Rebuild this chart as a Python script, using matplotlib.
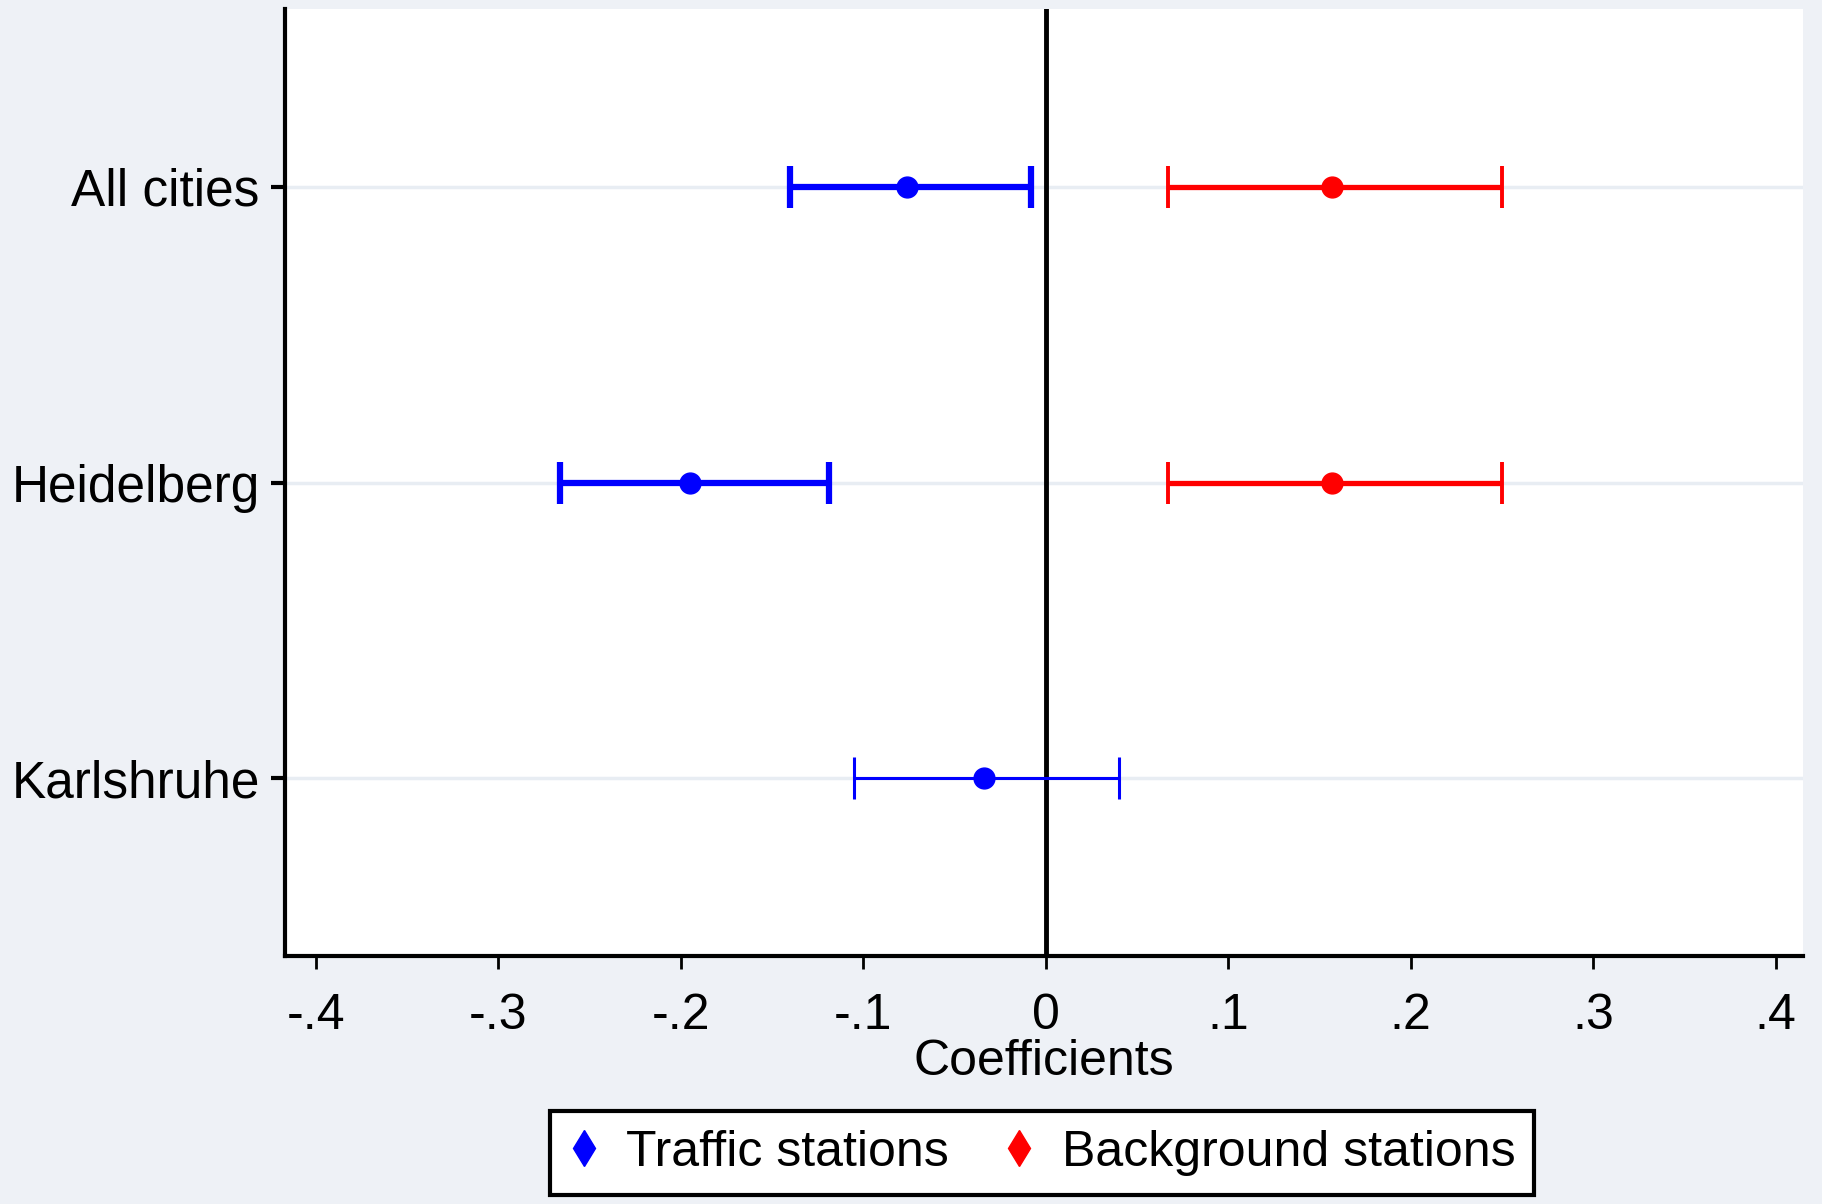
import matplotlib.pyplot as plt
from matplotlib.lines import Line2D

plt.rcParams['font.family'] = ['Liberation Sans Narrow', 'Liberation Sans', 'DejaVu Sans']

# coefficient estimates with 95% confidence bounds
cities = ['All cities', 'Heidelberg', 'Karlshruhe']
traffic_coef = [-0.076, -0.195, -0.034]
traffic_low = [-0.140, -0.266, -0.105]
traffic_high = [-0.008, -0.119, 0.040]
background_cities = ['All cities', 'Heidelberg']
background_coef = [0.157, 0.157]
background_low = [0.067, 0.067]
background_high = [0.250, 0.250]
xticks = [-0.4, -0.3, -0.2, -0.1, 0, 0.1, 0.2, 0.3, 0.4]
xticklabels = ['-.4', '-.3', '-.2', '-.1', '0', '.1', '.2', '.3', '.4']

bg = '#eef1f6'
fig = plt.figure(figsize=(18.22, 12.04), dpi=100, facecolor=bg)
ax = fig.add_axes([0.1563, 0.206, 0.8333, 0.7863])
ax.set_facecolor('white')

ypos = {c: i + 1 for i, c in enumerate(cities)}
for c in cities:
    ax.axhline(ypos[c], color='#e8edf3', lw=2.5, zorder=0)

ax.axvline(0, color='black', lw=3.5, zorder=1)

# thicker bars for the pooled and Heidelberg estimates, thin one for Karlsruhe
t_widths = [4.5, 4.5, 2.2]
for i, c in enumerate(cities):
    y = ypos[c]
    ax.errorbar(traffic_coef[i], y,
                xerr=[[traffic_coef[i] - traffic_low[i]], [traffic_high[i] - traffic_coef[i]]],
                fmt='o', color='blue', ms=15, lw=t_widths[i], capsize=15,
                capthick=t_widths[i], zorder=3)

for i, c in enumerate(background_cities):
    y = ypos[c]
    ax.errorbar(background_coef[i], y,
                xerr=[[background_coef[i] - background_low[i]], [background_high[i] - background_coef[i]]],
                fmt='o', color='red', ms=15, lw=3.8, capsize=15, capthick=2.8, zorder=3)

ax.set_xlim(-0.417, 0.415)
ax.set_ylim(3.6, 0.4)
ax.set_yticks([ypos[c] for c in cities])
ax.set_yticklabels(cities, fontsize=37)
ax.set_xticks(xticks)
ax.set_xticklabels(xticklabels, fontsize=36)
ax.tick_params(axis='y', length=10, width=3, pad=8)
ax.tick_params(axis='x', length=9, width=2, pad=18)
ax.set_xlabel('Coefficients', fontsize=36, labelpad=0)

for s in ['top', 'right']:
    ax.spines[s].set_visible(False)
for s in ['left', 'bottom']:
    ax.spines[s].set_linewidth(3)

handles = [Line2D([], [], ls='none', marker='d', color='blue', ms=18),
           Line2D([], [], ls='none', marker='d', color='red', ms=18)]
leg = fig.legend(handles, ['Traffic stations', 'Background stations'],
                 loc='center', bbox_to_anchor=(0.572, 0.0425), ncol=2,
                 fontsize=36, frameon=True, fancybox=False, edgecolor='black',
                 framealpha=1, facecolor='white',
                 handlelength=0.6, handletextpad=0.55, columnspacing=1.1,
                 borderpad=0.38, borderaxespad=0)
leg.get_frame().set_linewidth(3)

fig.savefig('out.png', dpi=100, facecolor=bg)
